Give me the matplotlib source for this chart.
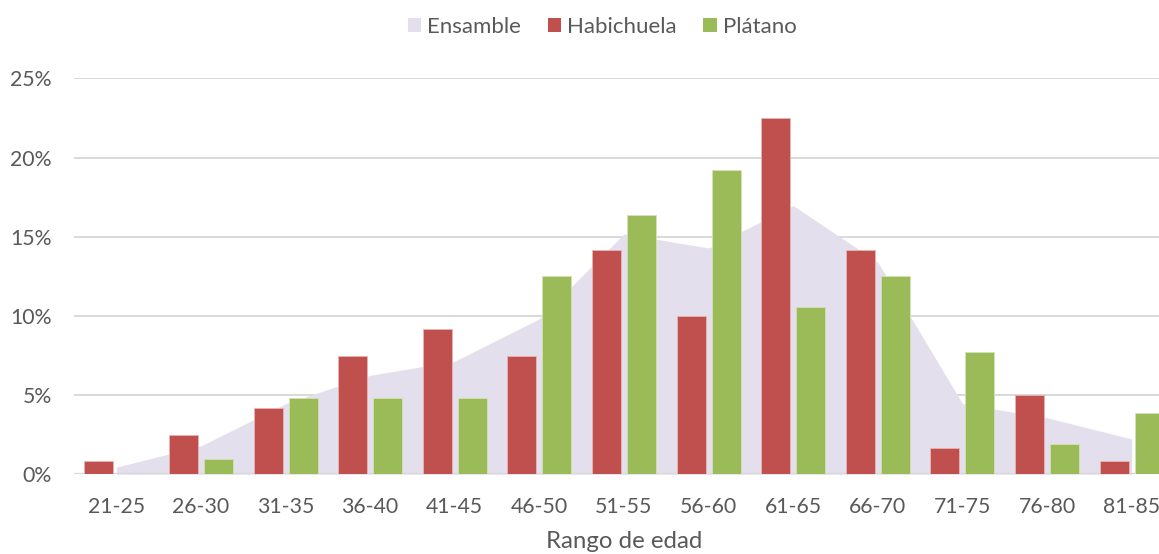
import matplotlib
matplotlib.use("Agg")
import matplotlib.pyplot as plt
from matplotlib.patches import Patch
from matplotlib.ticker import FuncFormatter
import numpy as np

# Age ranges and share of producers per range (%)
categories = ["21-25", "26-30", "31-35", "36-40", "41-45", "46-50", "51-55",
              "56-60", "61-65", "66-70", "71-75", "76-80", "81-85"]
habichuela = [0.83, 2.50, 4.17, 7.50, 9.17, 7.50, 14.17,
              10.00, 22.50, 14.17, 1.67, 5.00, 0.83]
platano = [0.0, 0.96, 4.81, 4.81, 4.81, 12.50, 16.35,
           19.23, 10.58, 12.50, 7.69, 1.92, 3.85]
ensamble = [0.45, 1.79, 4.46, 6.25, 7.14, 9.82, 15.18,
            14.29, 16.96, 13.39, 4.46, 3.57, 2.23]
y_ticks = [0, 5, 10, 15, 20, 25]

RED = "#C0504D"
GREEN = "#9BBB59"
LAVENDER = "#E4DFEC"
GRID = "#D9D9D9"
TEXT = "#595959"

plt.rcParams["font.family"] = ["Lato", "DejaVu Sans"]

W, H = 1159, 554
fig = plt.figure(figsize=(W / 100, H / 100), dpi=100)
fig.patch.set_facecolor("white")

# plot area runs slightly past the right edge of the canvas
left_px, right_px, top_px, bottom_px = 74, 1174, 78.3, 474.3
ax = fig.add_axes([left_px / W, (H - bottom_px) / H,
                   (right_px - left_px) / W, (bottom_px - top_px) / H])
ax.set_facecolor("none")

x = np.arange(len(categories))
bar_w = 0.343
offset = 0.207

ax.fill_between(x, ensamble, 0, color=LAVENDER, linewidth=0, zorder=1)
ax.bar(x - offset, habichuela, width=bar_w, color=RED,
       edgecolor="#E8B5B3", linewidth=0.6, zorder=3)
ax.bar(x + offset, platano, width=bar_w, color=GREEN,
       edgecolor="#D2E2B5", linewidth=0.6, zorder=3)

ax.set_xlim(-0.5, len(categories) - 0.5)
ax.set_ylim(0, 25)
ax.set_yticks(y_ticks)
ax.yaxis.set_major_formatter(FuncFormatter(lambda v, p: f"{v:.0f}%"))
ax.set_xticks(x)
ax.set_xticklabels(categories)

ax.grid(axis="y", color=GRID, linewidth=1.4, zorder=0)
ax.set_axisbelow(True)
for s in ax.spines.values():
    s.set_visible(False)
ax.axhline(0, color=GRID, linewidth=1.6, zorder=2)

ax.tick_params(axis="both", length=0, labelsize=15.3, colors=TEXT)
ax.tick_params(axis="x", pad=16)
ax.tick_params(axis="y", pad=16)

fig.text(624 / W, 1 - 542 / H, "Rango de edad", ha="center", va="center",
         fontsize=17.3, color=TEXT)

handles = [Patch(facecolor=LAVENDER, edgecolor="none", label="Ensamble"),
           Patch(facecolor=RED, edgecolor="none", label="Habichuela"),
           Patch(facecolor=GREEN, edgecolor="none", label="Plátano")]
leg = fig.legend(handles=handles, loc="center", ncol=3, frameon=False,
                 bbox_to_anchor=(602 / W, 1 - 26.7 / H),
                 fontsize=16, handlelength=0.62, handleheight=0.62,
                 handletextpad=0.25, columnspacing=1.2)
for t in leg.get_texts():
    t.set_color(TEXT)

fig.savefig("out.png", dpi=100, facecolor="white")
